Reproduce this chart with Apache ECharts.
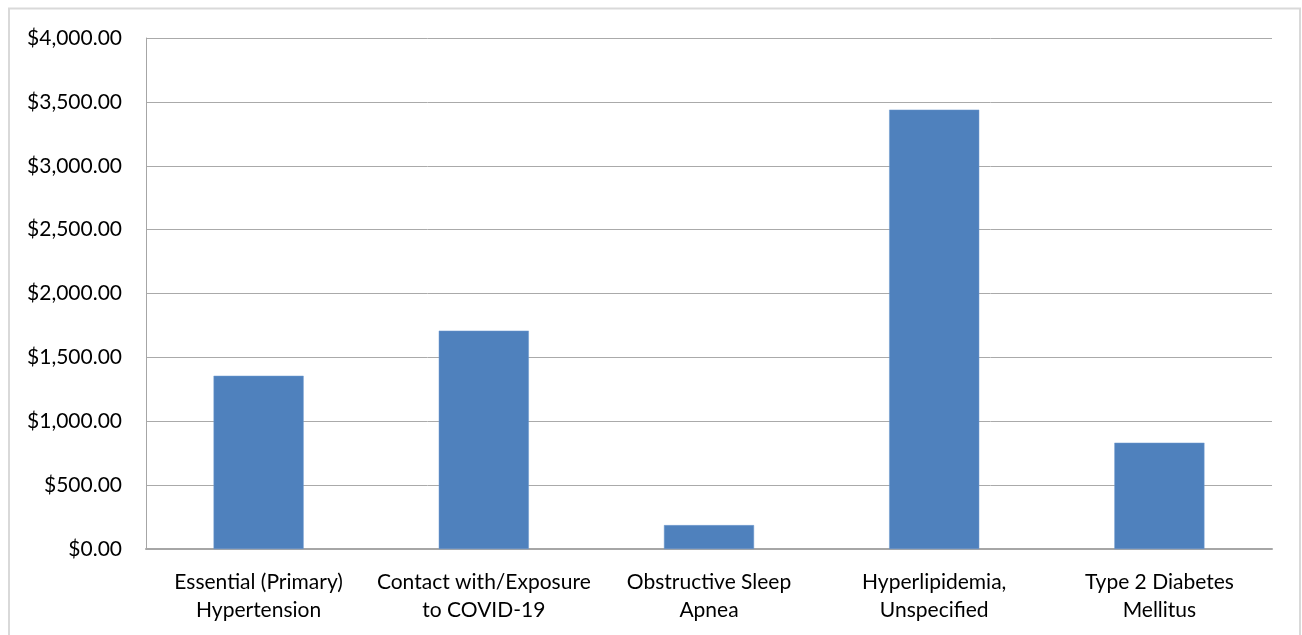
<!DOCTYPE html>
<html>
<head>
<meta charset="utf-8">
<script src="https://cdn.jsdelivr.net/npm/echarts@6/dist/echarts.min.js"></script>
<style>
  html, body { margin: 0; padding: 0; background: #fff; }
  #chart { width: 1302px; height: 635px; }
</style>
</head>
<body>
<div id="chart"></div>
<script>
// Cost by diagnosis
const categories = [
  'Essential (Primary)\nHypertension',
  'Contact with/Exposure\nto COVID-19',
  'Obstructive Sleep\nApnea',
  'Hyperlipidemia,\nUnspecified',
  'Type 2 Diabetes\nMellitus'
];
const costs = [1356, 1709, 187, 3439, 832];

const yMin = 0;
const yMax = 4000;
const yStep = 500;

function money(v) {
  return '$' + v.toLocaleString('en-US', { minimumFractionDigits: 2, maximumFractionDigits: 2 });
}

const chart = echarts.init(document.getElementById('chart'));
chart.setOption({
  animation: false,
  backgroundColor: '#ffffff',
  textStyle: { fontFamily: 'Lato, "Open Sans", sans-serif' },
  graphic: [{
    type: 'rect',
    shape: { x: 9, y: 8.5, width: 1291, height: 640 },
    style: { fill: 'none', stroke: '#d9d9d9', lineWidth: 2 },
    silent: true
  }],
  grid: { left: 146, right: 30, top: 38, bottom: 86 },
  xAxis: {
    type: 'category',
    data: categories,
    axisLine: { show: true, lineStyle: { color: '#a6a6a6', width: 2 } },
    axisTick: { show: false },
    axisLabel: {
      color: '#000',
      fontSize: 21,
      lineHeight: 28,
      margin: 19,
      interval: 0
    }
  },
  yAxis: {
    type: 'value',
    min: yMin,
    max: yMax,
    interval: yStep,
    axisLine: { show: true, lineStyle: { color: '#a6a6a6', width: 1 } },
    axisTick: { show: false },
    splitLine: { lineStyle: { color: '#aaaaaa', width: 1 } },
    axisLabel: {
      color: '#000',
      fontSize: 21,
      margin: 24,
      formatter: money
    }
  },
  series: [{
    type: 'bar',
    data: costs,
    barCategoryGap: '60%',
    itemStyle: { color: '#4f81bd', borderColor: '#6f9bd0', borderWidth: 0.5 }
  }]
});
</script>
</body>
</html>
